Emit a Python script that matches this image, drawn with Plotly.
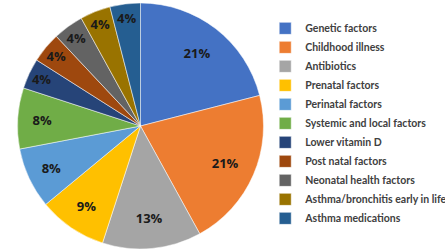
import plotly.graph_objects as go

labels = ['Genetic factors', 'Childhood illness', 'Antibiotics', 'Prenatal factors',
          'Perinatal factors', 'Systemic and local factors', 'Lower vitamin D',
          'Post natal factors', 'Neonatal health factors',
          'Asthma/bronchitis early in life', 'Asthma medications']
values = [21, 21, 13, 9, 8, 8, 4, 4, 4, 4, 4]
colors = ['#4472C4', '#ED7D31', '#A5A5A5', '#FFC000', '#5B9BD5', '#70AD47',
          '#264478', '#9E480E', '#636363', '#997300', '#255E91']

W, H = 445, 252
dom_x = [17.5 / W, 263.5 / W]
dom_y = [3 / H, 249 / H]

fig = go.Figure()
# full pie with colours and legend
fig.add_trace(go.Pie(
    labels=labels, values=values, sort=False, direction='clockwise',
    rotation=0, marker=dict(colors=colors, line=dict(color='white', width=0.5)),
    textinfo='none', hoverinfo='label+percent',
    domain=dict(x=dom_x, y=dom_y)
))
# transparent ring on top only to place percentage labels near the rim
fig.add_trace(go.Pie(
    labels=labels, values=values, sort=False, direction='clockwise',
    rotation=0, hole=0.5, showlegend=False,
    marker=dict(colors=['rgba(0,0,0,0)'] * len(values)),
    texttemplate='%{value}%', textposition='inside',
    insidetextorientation='horizontal',
    textfont=dict(family='Open Sans', size=13, color='#1a1a1a', weight='bold'),
    hoverinfo='skip', domain=dict(x=dom_x, y=dom_y)
))

fig.update_layout(
    width=W, height=H,
    margin=dict(l=0, r=0, t=0, b=0, autoexpand=False),
    paper_bgcolor='white',
    legend=dict(x=0.596, y=0.945, xanchor='left', yanchor='top',
                font=dict(family='Lato', size=10.5, color='#404040', weight='bold'),
                itemwidth=30),
)
# drop the default 8px body margin so the figure sits at the window corner
fig.write_html("out.html", config={'displayModeBar': False},
               post_script="document.body.style.margin='0';")
